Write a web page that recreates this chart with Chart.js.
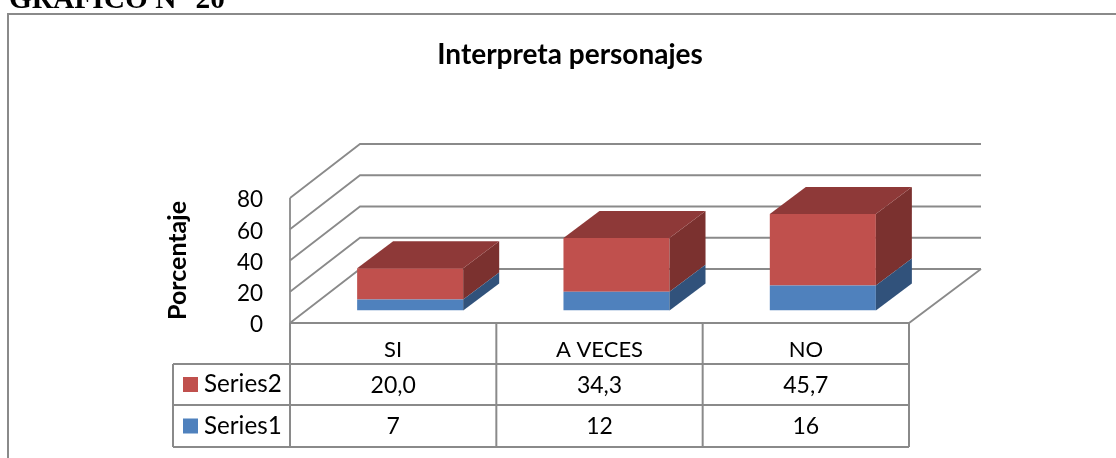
<!DOCTYPE html>
<html><head><meta charset="utf-8">
<style>html,body{margin:0;padding:0;background:#fff;overflow:hidden}canvas{display:block}</style>
<script src="https://cdn.jsdelivr.net/npm/chart.js@4"></script></head>
<body><canvas id="c" width="1116" height="458"></canvas>
<script>
const categories = ["SI", "A VECES", "NO"];
const series1 = [7, 12, 16];
const series2 = [20.0, 34.3, 45.7];
const heading = "GRÁFICO N° 20";
const chartTitle = "Interpreta personajes";
const axisTitle = "Porcentaje";

const FONT = "Lato, Carlito, sans-serif";
const LINE = "#8a8a8a";
const BLUE = "#4F81BD", RED = "#C0504D";
const BLUE_SIDE = "#31527B", RED_SIDE = "#7B312F", RED_TOP = "#8E3938";
const WALL = {dx: 70, dy: -54, right: 981};
const BAR = {dx: 36, dy: -27, sx: 17, sy: -12.6};
const TABLE = {left: 173, rows: [364, 405, 447]};

const stage = {
  id: "stage",
  afterLayout(chart) {
    chart.titleBlock.left = 230;
    chart.titleBlock.right = 910;
  },
  beforeDatasetsDraw(chart) {
    const {ctx, chartArea: a, scales: {y}} = chart;
    ctx.save();
    ctx.strokeStyle = LINE;
    ctx.lineWidth = 1.8;
    ctx.lineJoin = "miter";
    y.ticks.forEach(t => {
      const p = y.getPixelForValue(t.value);
      ctx.beginPath();
      ctx.moveTo(a.left, p);
      ctx.lineTo(a.left + WALL.dx, p + WALL.dy);
      ctx.lineTo(WALL.right, p + WALL.dy);
      ctx.stroke();
    });
    ctx.beginPath();
    ctx.moveTo(a.left, a.top);
    ctx.lineTo(a.left, a.bottom);
    ctx.lineTo(a.right, a.bottom);
    ctx.lineTo(WALL.right, a.bottom + WALL.dy);
    ctx.stroke();
    ctx.restore();
  },
  beforeDatasetDraw(chart) {
    chart.ctx.save();
    chart.ctx.translate(BAR.sx, BAR.sy);
  },
  afterDatasetDraw(chart, args) {
    const ctx = chart.ctx;
    const isTop = args.index === 1;
    chart.getDatasetMeta(args.index).data.forEach(el => {
      const l = el.x - el.width / 2, r = el.x + el.width / 2;
      ctx.fillStyle = isTop ? RED_SIDE : BLUE_SIDE;
      ctx.beginPath();
      ctx.moveTo(r, el.y);
      ctx.lineTo(r + BAR.dx, el.y + BAR.dy);
      ctx.lineTo(r + BAR.dx, el.base + BAR.dy);
      ctx.lineTo(r, el.base);
      ctx.closePath();
      ctx.fill();
      if (isTop) {
        ctx.fillStyle = RED_TOP;
        ctx.beginPath();
        ctx.moveTo(l, el.y);
        ctx.lineTo(l + BAR.dx, el.y + BAR.dy);
        ctx.lineTo(r + BAR.dx, el.y + BAR.dy);
        ctx.lineTo(r, el.y);
        ctx.closePath();
        ctx.fill();
      }
    });
    ctx.restore();
  },
  afterDraw(chart) {
    const {ctx, chartArea: a, scales: {x}} = chart;
    ctx.save();
    ctx.strokeStyle = LINE;
    ctx.lineWidth = 2;
    ctx.beginPath();
    ctx.moveTo(8, 470);
    ctx.lineTo(8, 14);
    ctx.lineTo(1116, 14);
    ctx.stroke();
    ctx.fillStyle = "#000";
    ctx.font = "bold 29.4px 'Liberation Serif'";
    ctx.textAlign = "left";
    ctx.textBaseline = "alphabetic";
    ctx.fillText(heading, 9, 8);
    const edges = [a.left];
    categories.forEach((c, i) => edges.push(i === categories.length - 1 ? a.right : (x.getPixelForValue(i) + x.getPixelForValue(i + 1)) / 2));
    ctx.lineWidth = 2;
    edges.forEach(e => {
      ctx.beginPath(); ctx.moveTo(e, a.bottom); ctx.lineTo(e, TABLE.rows[2]); ctx.stroke();
    });
    TABLE.rows.forEach(r => {
      ctx.beginPath(); ctx.moveTo(TABLE.left, r); ctx.lineTo(a.right, r); ctx.stroke();
    });
    ctx.beginPath(); ctx.moveTo(TABLE.left, TABLE.rows[0]); ctx.lineTo(TABLE.left, TABLE.rows[2]); ctx.stroke();
    const rows = [
      {name: "Series2", color: RED, vals: series2.map(v => v.toFixed(1).replace(".", ","))},
      {name: "Series1", color: BLUE, vals: series1.map(String)}
    ];
    ctx.textBaseline = "middle";
    rows.forEach((row, i) => {
      const cy = (TABLE.rows[i] + TABLE.rows[i + 1]) / 2;
      ctx.fillStyle = row.color;
      ctx.fillRect(183, cy - 7.5, 15, 15);
      ctx.fillStyle = "#000";
      ctx.textAlign = "left";
      ctx.font = "24.2px " + FONT;
      ctx.fillText(row.name, 204, cy);
      ctx.textAlign = "center";
      ctx.font = "23px " + FONT;
      row.vals.forEach((v, j) => ctx.fillText(v, x.getPixelForValue(j), cy + 1));
    });
    ctx.restore();
  }
};

new Chart(document.getElementById("c"), {
  type: "bar",
  plugins: [stage],
  data: {
    labels: categories,
    datasets: [
      {label: "Series1", data: series1, backgroundColor: BLUE},
      {label: "Series2", data: series2, backgroundColor: RED}
    ]
  },
  options: {
    responsive: false,
    devicePixelRatio: 1,
    animation: false,
    barPercentage: 0.514,
    categoryPercentage: 1,
    layout: {padding: {left: 163, right: 207, top: 0, bottom: 80}},
    plugins: {
      legend: {display: false},
      tooltip: {enabled: false},
      title: {
        display: true,
        text: chartTitle,
        color: "#000",
        font: {family: FONT, size: 28, weight: "bold"},
        padding: {top: 38, bottom: 126.4}
      }
    },
    scales: {
      x: {
        stacked: true,
        grid: {display: false, drawTicks: false},
        border: {display: false},
        afterFit(s) { s.height = 55; },
        ticks: {color: "#000", font: {family: FONT, size: 22}, padding: 14, maxRotation: 0, autoSkip: false}
      },
      y: {
        stacked: true,
        min: 0, max: 80,
        grid: {display: false, drawTicks: false},
        border: {display: false},
        afterFit(s) { s.width = 127; },
        ticks: {stepSize: 20, color: "#000", font: {family: FONT, size: 22.5}, padding: 27, labelOffset: 2},
        title: {display: true, text: axisTitle, color: "#000", font: {family: FONT, size: 25, weight: "bold"}, padding: 0}
      }
    }
  }
});
</script></body></html>
